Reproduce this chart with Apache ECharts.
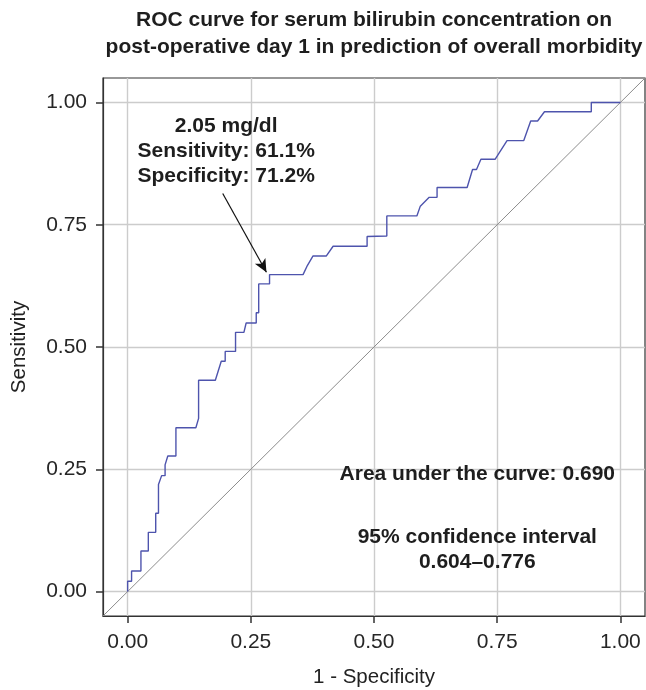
<!DOCTYPE html>
<html><head><meta charset="utf-8">
<script src="https://cdn.jsdelivr.net/npm/echarts@6/dist/echarts.min.js"></script>
<style>html,body{margin:0;padding:0;background:#fff}#c{width:646px;height:690px}</style>
</head><body><div id="c"></div>
<script>
// ROC curve vertices [1 - specificity, sensitivity]
const rocFpr = [0,0,0.008,0.008,0.027,0.027,0.042,0.042,0.057,0.057,0.0626,0.0626,0.069,0.076,0.076,0.0815,0.098,0.098,0.1385,0.144,0.144,0.178,0.19,0.198,0.198,0.219,0.219,0.236,0.2405,0.261,0.261,0.266,0.266,0.288,0.288,0.356,0.365,0.376,0.403,0.417,0.486,0.486,0.526,0.526,0.587,0.594,0.612,0.628,0.628,0.689,0.700,0.708,0.717,0.746,0.770,0.804,0.818,0.832,0.846,0.941,0.941,1.0];
const rocTpr = [0,0.021,0.021,0.042,0.042,0.083,0.083,0.121,0.121,0.160,0.160,0.219,0.237,0.237,0.259,0.277,0.277,0.335,0.335,0.354,0.432,0.432,0.471,0.471,0.491,0.491,0.530,0.530,0.549,0.549,0.570,0.570,0.629,0.629,0.648,0.648,0.667,0.686,0.686,0.706,0.706,0.726,0.727,0.768,0.768,0.788,0.806,0.806,0.826,0.826,0.863,0.863,0.884,0.884,0.922,0.922,0.962,0.962,0.981,0.981,1.0,1.0];
const diagX = [-0.05, 1.05];
const diagY = [-0.05, 1.05];
const tickValues = [0, 0.25, 0.5, 0.75, 1];
const axisMin = -0.05, axisMax = 1.05;
const titleText = 'ROC curve for serum bilirubin concentration on\npost-operative day 1 in prediction of overall morbidity';
const xName = '1 - Specificity';
const yName = 'Sensitivity';
const cutoffText = '2.05 mg/dl\nSensitivity: 61.1%\nSpecificity: 71.2%';
const cutoffTextPos = [0.2, 0.901];
const arrowFrom = [0.193, 0.814];
const arrowTo = [0.2817, 0.653];
const aucText = 'Area under the curve: 0.690';
const aucPos = [0.7096, 0.239];
const ciText = '95% confidence interval\n0.604\u20130.776';
const ciPos = [0.7096, 0.085];

const FONT = '"Liberation Sans", Arial, Helvetica, sans-serif';
const chart = echarts.init(document.getElementById('c'));
function makeAxis(name, nameGap) {
  return {
    type: 'value', min: axisMin, max: axisMax,
    name: name, nameLocation: 'middle', nameGap: nameGap,
    nameTextStyle: {color: '#222', fontSize: 20.5, fontFamily: FONT},
    axisLine: {show: true, onZero: false, lineStyle: {color: '#333', width: 1.2}},
    axisTick: {show: true, length: 7, customValues: tickValues, lineStyle: {color: '#333', width: 1.5}},
    axisLabel: {customValues: tickValues, margin: 16, color: '#262626', fontSize: 21, fontFamily: FONT,
                formatter: v => v.toFixed(2)},
    splitLine: {show: true, lineStyle: {color: '#cccccc', width: 1.4}}
  };
}
chart.setOption({
  animation: false,
  backgroundColor: '#fff',
  grid: {left: 103, top: 78, right: 1, bottom: 74, show: true, borderColor: '#333', borderWidth: 1.2,
         outerBoundsMode: 'none'},
  xAxis: makeAxis(xName, 51),
  yAxis: makeAxis(yName, 73),
  graphic: [{
    type: 'text', x: 374, y: 7, z: 10,
    style: {text: titleText, font: 'bold 21px ' + FONT, fill: '#1e1e1e', align: 'center', verticalAlign: 'top', lineHeight: 27}
  }],
  series: [
    {type: 'line', data: diagX.map((x, i) => [x, diagY[i]]), symbol: 'none', silent: true,
     lineStyle: {color: '#8c8c8c', width: 1}, z: 2},
    {type: 'line', data: rocFpr.map((x, i) => [x, rocTpr[i]]), symbol: 'none',
     lineStyle: {color: '#4e54ad', width: 1.4}, z: 3,
     markLine: {silent: true, symbol: ['none', 'arrow'], symbolSize: [9, 13],
       lineStyle: {color: '#111', width: 1.2, type: 'solid'}, label: {show: false},
       data: [[{coord: arrowFrom}, {coord: arrowTo}]]}},
    {type: 'scatter', symbolSize: 0, silent: true, z: 5, itemStyle: {opacity: 1},
     data: [
       {value: cutoffTextPos, label: {formatter: cutoffText}},
       {value: aucPos, label: {formatter: aucText}},
       {value: ciPos, label: {formatter: ciText}}
     ],
     label: {show: true, position: 'inside', color: '#1e1e1e', opacity: 1, fontSize: 21, fontWeight: 'bold', fontFamily: FONT, lineHeight: 25, align: 'center', verticalAlign: 'middle'}}
  ]
});
</script></body></html>
